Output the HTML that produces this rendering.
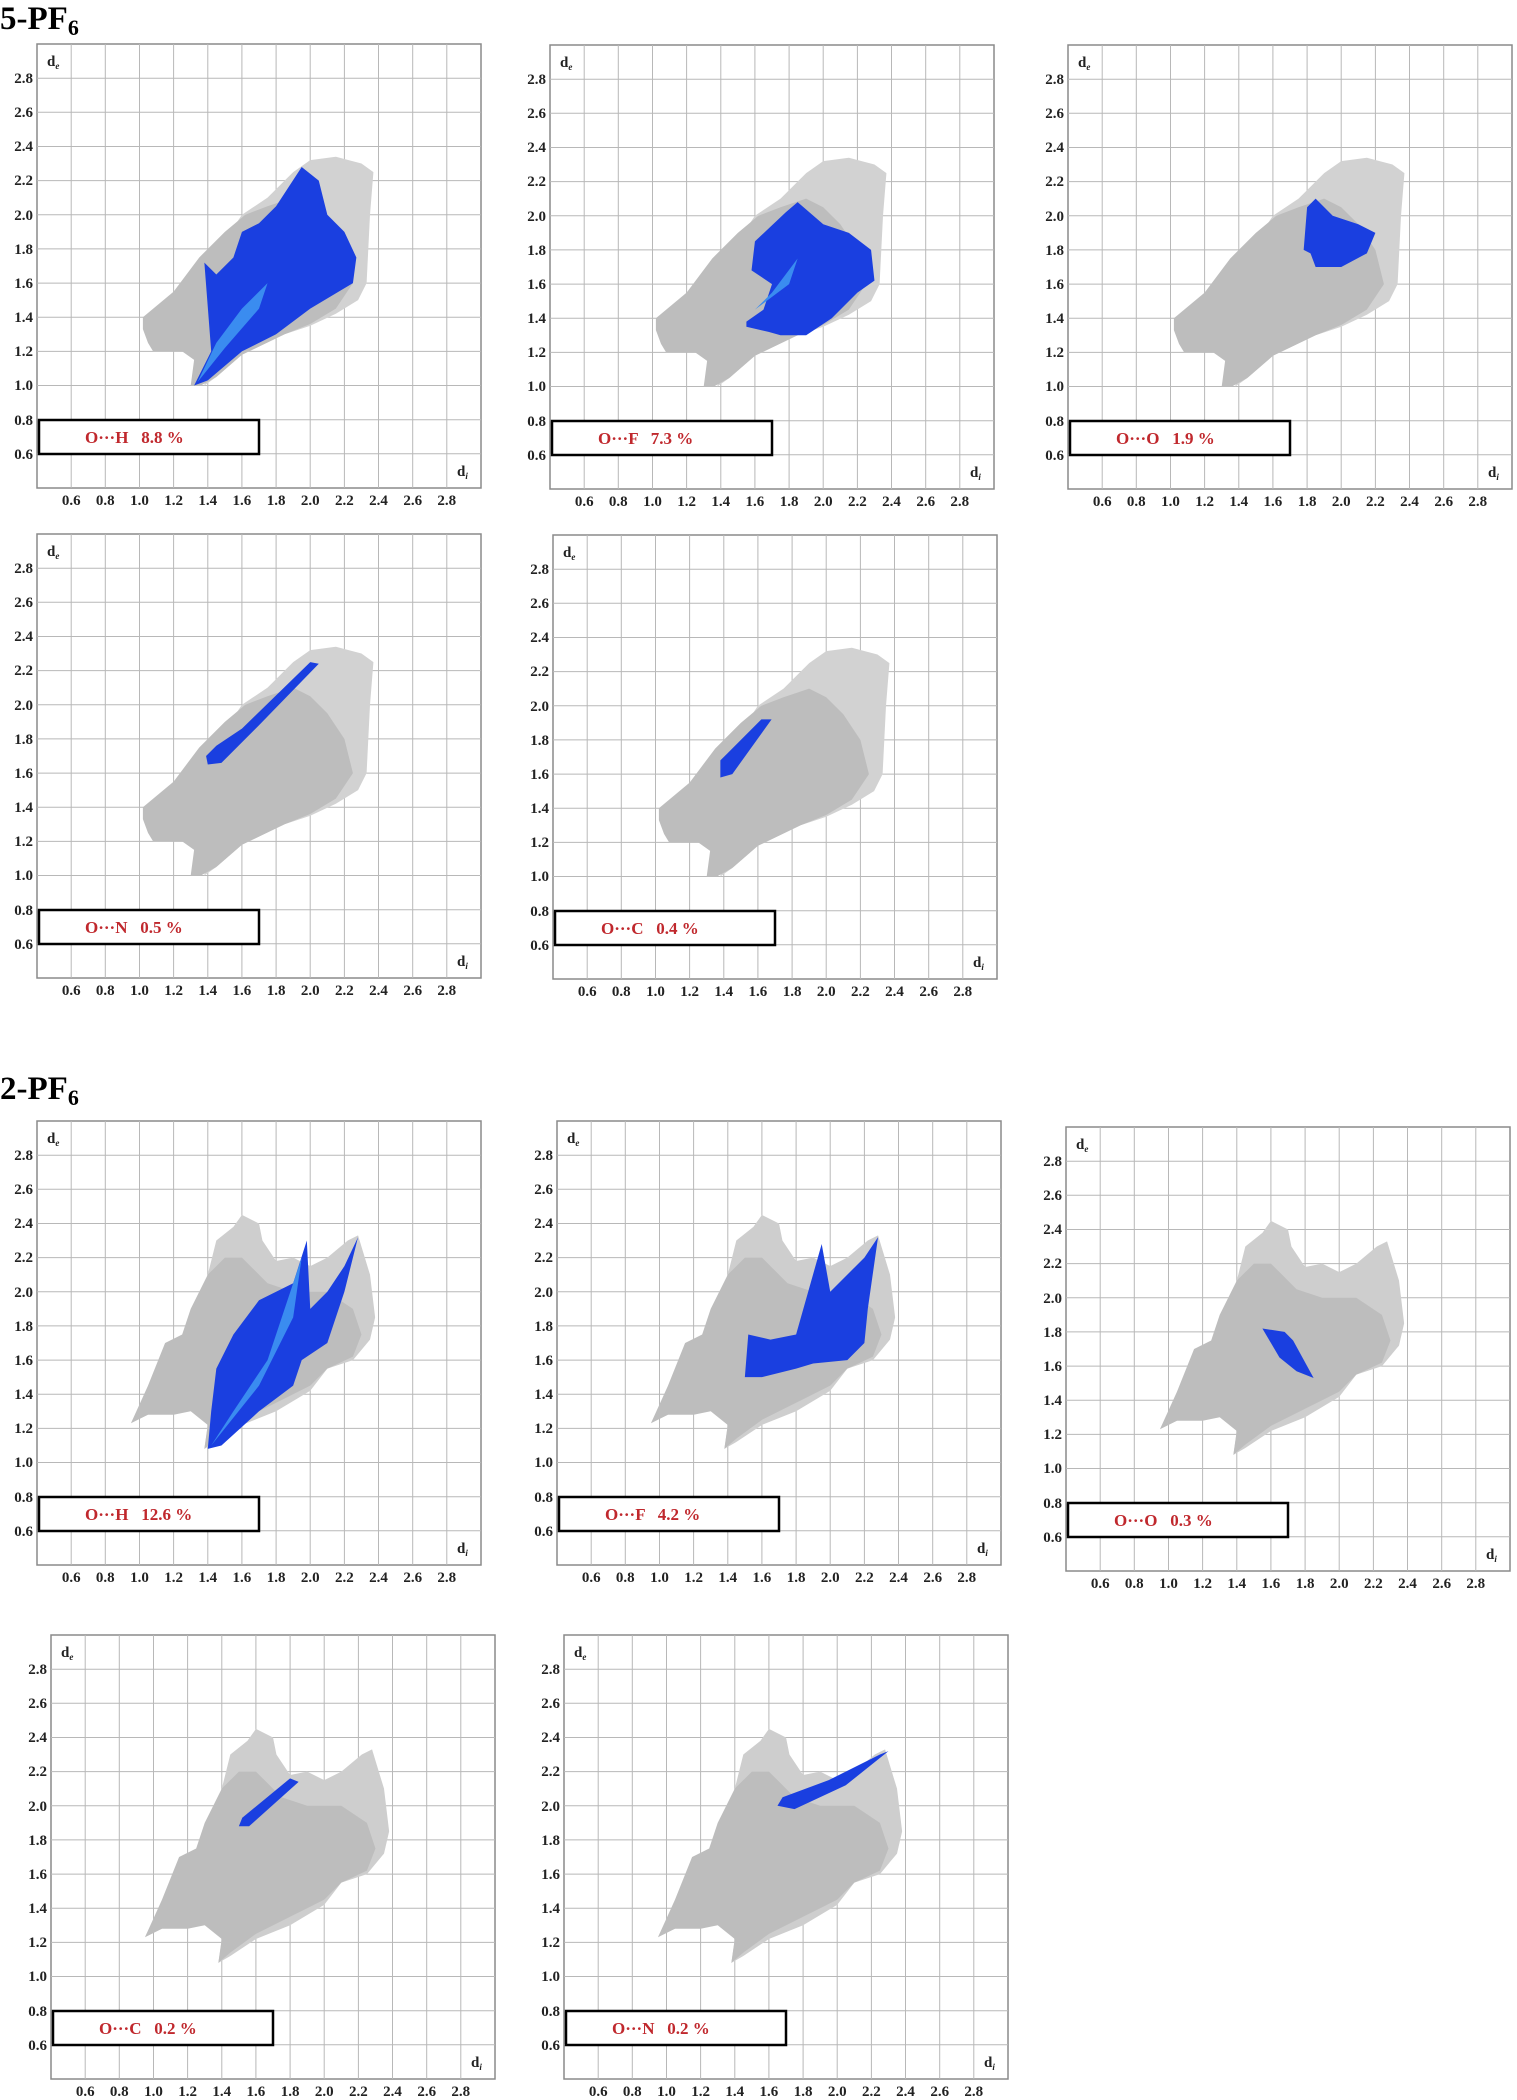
<!DOCTYPE html>
<html><head><meta charset="utf-8"><style>
html,body{margin:0;padding:0;background:#fff;width:1517px;height:2100px;overflow:hidden}
svg{display:block}
.t{font-family:"Liberation Serif",serif;font-weight:bold;font-size:15px;fill:#222}
.lg{font-family:"Liberation Serif",serif;font-weight:bold;font-size:17px;fill:#c0282d;white-space:pre}
.h{font-family:"Liberation Serif",serif;font-weight:bold;font-size:33px;fill:#000}
</style></head><body>
<svg width="1517" height="2100" viewBox="0 0 1517 2100" xmlns="http://www.w3.org/2000/svg">
<defs>
<g id="frame">
<rect x="0" y="0" width="444" height="444" fill="#fff" stroke="#8a8a8a" stroke-width="1.5"/>
<g stroke="#b8b8b8" stroke-width="1">
<line x1="34.2" y1="0" x2="34.2" y2="444"/><line x1="68.3" y1="0" x2="68.3" y2="444"/><line x1="102.5" y1="0" x2="102.5" y2="444"/><line x1="136.6" y1="0" x2="136.6" y2="444"/><line x1="170.8" y1="0" x2="170.8" y2="444"/><line x1="204.9" y1="0" x2="204.9" y2="444"/><line x1="239.1" y1="0" x2="239.1" y2="444"/><line x1="273.2" y1="0" x2="273.2" y2="444"/><line x1="307.4" y1="0" x2="307.4" y2="444"/><line x1="341.5" y1="0" x2="341.5" y2="444"/><line x1="375.7" y1="0" x2="375.7" y2="444"/><line x1="409.8" y1="0" x2="409.8" y2="444"/>
<line y1="34.2" x1="0" y2="34.2" x2="444"/><line y1="68.3" x1="0" y2="68.3" x2="444"/><line y1="102.5" x1="0" y2="102.5" x2="444"/><line y1="136.6" x1="0" y2="136.6" x2="444"/><line y1="170.8" x1="0" y2="170.8" x2="444"/><line y1="204.9" x1="0" y2="204.9" x2="444"/><line y1="239.1" x1="0" y2="239.1" x2="444"/><line y1="273.2" x1="0" y2="273.2" x2="444"/><line y1="307.4" x1="0" y2="307.4" x2="444"/><line y1="341.5" x1="0" y2="341.5" x2="444"/><line y1="375.7" x1="0" y2="375.7" x2="444"/><line y1="409.8" x1="0" y2="409.8" x2="444"/>
</g>
<g class="t" text-anchor="end">
<text x="-4" y="39">2.8</text><text x="-4" y="73">2.6</text><text x="-4" y="107">2.4</text><text x="-4" y="141">2.2</text><text x="-4" y="176">2.0</text><text x="-4" y="210">1.8</text><text x="-4" y="244">1.6</text><text x="-4" y="278">1.4</text><text x="-4" y="312">1.2</text><text x="-4" y="346">1.0</text><text x="-4" y="381">0.8</text><text x="-4" y="415">0.6</text>
</g>
<g class="t" text-anchor="middle">
<text x="34.2" y="461">0.6</text><text x="68.3" y="461">0.8</text><text x="102.5" y="461">1.0</text><text x="136.6" y="461">1.2</text><text x="170.8" y="461">1.4</text><text x="204.9" y="461">1.6</text><text x="239.1" y="461">1.8</text><text x="273.2" y="461">2.0</text><text x="307.4" y="461">2.2</text><text x="341.5" y="461">2.4</text><text x="375.7" y="461">2.6</text><text x="409.8" y="461">2.8</text>
</g>
<text class="t" x="10" y="22" font-size="13">d<tspan font-size="9" dy="3" font-style="italic">e</tspan></text>
<text class="t" x="420" y="432" font-size="13">d<tspan font-size="9" dy="3" font-style="italic">i</tspan></text>
<rect x="2" y="376" width="220" height="34" fill="#fff" stroke="#000" stroke-width="2.5"/>
</g>
<g id="g5">
<polygon fill="#d2d2d2" points="1.5,1.85 1.6,2.0 1.75,2.1 1.9,2.25 2.0,2.32 2.15,2.34 2.3,2.3 2.37,2.25 2.35,2.0 2.34,1.8 2.33,1.6 2.28,1.5 2.15,1.42 2.0,1.35 1.85,1.3 1.6,1.18 1.45,1.05 1.38,1.0"/>
<polygon fill="#bdbdbd" points="1.02,1.33 1.02,1.4 1.2,1.55 1.35,1.75 1.5,1.9 1.62,2.0 1.75,2.05 1.9,2.1 2.0,2.05 2.1,1.95 2.2,1.8 2.25,1.6 2.15,1.45 2.0,1.36 1.85,1.3 1.6,1.18 1.45,1.05 1.36,1.0 1.3,1.0 1.32,1.15 1.25,1.2 1.08,1.2 1.05,1.25"/>
</g>
<g id="g2">
<polygon fill="#cecece" points="1.4,2.1 1.45,2.3 1.55,2.38 1.6,2.45 1.7,2.4 1.72,2.3 1.8,2.18 1.9,2.2 2.0,2.15 2.1,2.2 2.22,2.3 2.28,2.33 2.35,2.1 2.38,1.85 2.35,1.72 2.25,1.6 2.1,1.55 2.0,1.42 1.8,1.3 1.6,1.22 1.45,1.12 1.38,1.08 1.4,1.22"/>
<polygon fill="#bdbdbd" points="0.95,1.23 1.05,1.45 1.15,1.7 1.25,1.75 1.3,1.9 1.4,2.1 1.5,2.2 1.6,2.2 1.75,2.05 1.9,2.0 2.1,2.0 2.25,1.9 2.3,1.75 2.25,1.62 2.1,1.55 2.0,1.45 1.8,1.35 1.6,1.25 1.45,1.14 1.38,1.08 1.4,1.22 1.3,1.3 1.2,1.28 1.05,1.28"/>
</g>
</defs>

<text class="h" x="0" y="29">5-PF<tspan font-size="22" dy="6">6</tspan></text>
<text class="h" x="0" y="1099">2-PF<tspan font-size="22" dy="6">6</tspan></text>

<g transform="translate(37,44)"><use href="#frame"/>
<g transform="matrix(170.77 0 0 -170.77 -68.3 512.3)"><use href="#g5"/>
<polygon fill="#1a3fe0" points="1.32,1.0 1.42,1.2 1.38,1.72 1.45,1.65 1.55,1.75 1.6,1.9 1.7,1.95 1.8,2.05 1.95,2.28 2.05,2.2 2.1,2.0 2.2,1.9 2.27,1.75 2.25,1.6 2.0,1.45 1.8,1.3 1.6,1.2 1.4,1.03"/>
<polygon fill="#3a8cf0" points="1.34,1.02 1.45,1.25 1.6,1.45 1.75,1.6 1.7,1.45 1.5,1.22"/>
</g>
<text class="lg" x="48" y="399">O···H   8.8 %</text></g>

<g transform="translate(550,45)"><use href="#frame"/>
<g transform="matrix(170.77 0 0 -170.77 -68.3 512.3)"><use href="#g5"/>
<polygon fill="#1a3fe0" points="1.55,1.38 1.55,1.35 1.68,1.32 1.75,1.3 1.9,1.3 2.05,1.4 2.2,1.55 2.3,1.62 2.28,1.8 2.15,1.9 2.0,1.95 1.85,2.08 1.78,2.02 1.6,1.85 1.58,1.68 1.7,1.6 1.65,1.45"/>
<polygon fill="#3a8cf0" points="1.6,1.45 1.7,1.55 1.85,1.75 1.8,1.6"/>
</g>
<text class="lg" x="48" y="399">O···F   7.3 %</text></g>

<g transform="translate(1068,45)"><use href="#frame"/>
<g transform="matrix(170.77 0 0 -170.77 -68.3 512.3)"><use href="#g5"/>
<polygon fill="#1a3fe0" points="1.78,1.8 1.8,2.05 1.85,2.1 1.95,2.0 2.1,1.95 2.2,1.9 2.15,1.78 2.0,1.7 1.85,1.7 1.82,1.78"/>
</g>
<text class="lg" x="48" y="399">O···O   1.9 %</text></g>

<g transform="translate(37,534)"><use href="#frame"/>
<g transform="matrix(170.77 0 0 -170.77 -68.3 512.3)"><use href="#g5"/>
<polygon fill="#1a3fe0" points="1.4,1.65 1.48,1.66 1.7,1.88 2.05,2.24 2.0,2.25 1.6,1.86 1.45,1.76 1.39,1.7"/>
</g>
<text class="lg" x="48" y="399">O···N   0.5 %</text></g>

<g transform="translate(553,535)"><use href="#frame"/>
<g transform="matrix(170.77 0 0 -170.77 -68.3 512.3)"><use href="#g5"/>
<polygon fill="#1a3fe0" points="1.38,1.58 1.45,1.6 1.68,1.92 1.62,1.92 1.42,1.72 1.38,1.68"/>
</g>
<text class="lg" x="48" y="399">O···C   0.4 %</text></g>

<g transform="translate(37,1121)"><use href="#frame"/>
<g transform="matrix(170.77 0 0 -170.77 -68.3 512.3)"><use href="#g2"/>
<polygon fill="#1a3fe0" points="1.4,1.08 1.48,1.1 1.7,1.3 1.9,1.45 1.95,1.6 2.1,1.7 2.2,2.0 2.28,2.32 2.2,2.15 2.1,2.0 2.0,1.9 1.98,2.3 1.9,2.05 1.8,2.0 1.7,1.95 1.55,1.75 1.45,1.55 1.42,1.3"/>
<polygon fill="#3a8cf0" points="1.42,1.1 1.55,1.3 1.75,1.6 1.95,2.2 1.9,1.85 1.7,1.45 1.5,1.2"/>
</g>
<text class="lg" x="48" y="399">O···H   12.6 %</text></g>

<g transform="translate(557,1121)"><use href="#frame"/>
<g transform="matrix(170.77 0 0 -170.77 -68.3 512.3)"><use href="#g2"/>
<polygon fill="#1a3fe0" points="1.5,1.5 1.52,1.75 1.65,1.72 1.8,1.75 1.95,2.28 2.0,2.0 2.2,2.2 2.28,2.32 2.22,1.9 2.2,1.7 2.1,1.6 1.9,1.58 1.8,1.55 1.6,1.5"/>
</g>
<text class="lg" x="48" y="399">O···F   4.2 %</text></g>

<g transform="translate(1066,1127)"><use href="#frame"/>
<g transform="matrix(170.77 0 0 -170.77 -68.3 512.3)"><use href="#g2"/>
<polygon fill="#1a3fe0" points="1.55,1.82 1.68,1.8 1.73,1.75 1.85,1.53 1.75,1.57 1.65,1.65"/>
</g>
<text class="lg" x="48" y="399">O···O   0.3 %</text></g>

<g transform="translate(51,1635)"><use href="#frame"/>
<g transform="matrix(170.77 0 0 -170.77 -68.3 512.3)"><use href="#g2"/>
<polygon fill="#1a3fe0" points="1.5,1.88 1.56,1.88 1.85,2.14 1.8,2.16 1.52,1.93"/>
</g>
<text class="lg" x="48" y="399">O···C   0.2 %</text></g>

<g transform="translate(564,1635)"><use href="#frame"/>
<g transform="matrix(170.77 0 0 -170.77 -68.3 512.3)"><use href="#g2"/>
<polygon fill="#1a3fe0" points="1.65,2.0 1.75,1.98 2.05,2.12 2.3,2.32 2.25,2.3 1.95,2.15 1.68,2.05"/>
</g>
<text class="lg" x="48" y="399">O···N   0.2 %</text></g>
</svg>
</body></html>
